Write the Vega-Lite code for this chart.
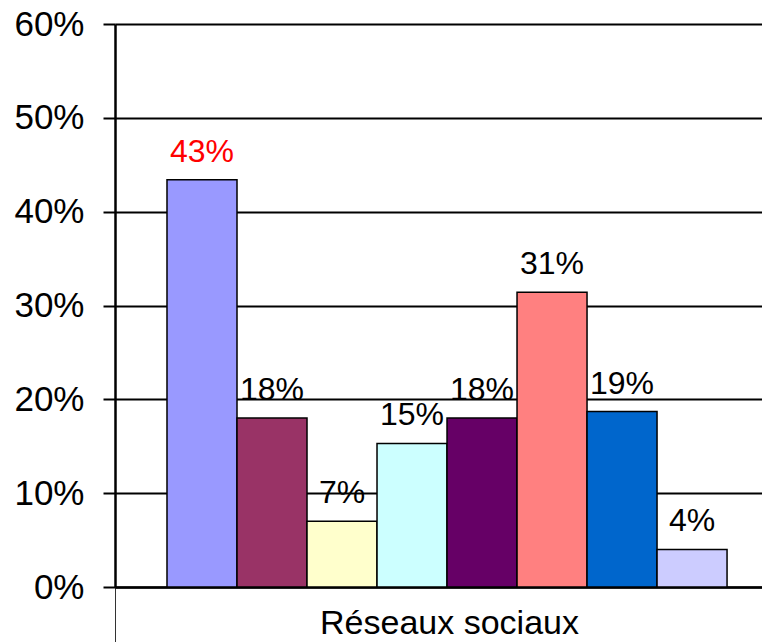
{
  "$schema": "https://vega.github.io/schema/vega-lite/v6.json",
  "autosize": "none",
  "padding": {"left": 115, "top": 24, "right": 0, "bottom": 55},
  "width": 647,
  "height": 563,
  "background": "white",
  "config": {
    "view": {"stroke": null},
    "font": "Liberation Sans",
    "axis": {"labelFont": "Liberation Sans", "labelColor": "black"}
  },
  "data": {
    "values": [
      {"categorie": "Réseaux sociaux", "serie": "S1", "valeur": 0.434},
      {"categorie": "Réseaux sociaux", "serie": "S2", "valeur": 0.180},
      {"categorie": "Réseaux sociaux", "serie": "S3", "valeur": 0.070},
      {"categorie": "Réseaux sociaux", "serie": "S4", "valeur": 0.153},
      {"categorie": "Réseaux sociaux", "serie": "S5", "valeur": 0.180},
      {"categorie": "Réseaux sociaux", "serie": "S6", "valeur": 0.314},
      {"categorie": "Réseaux sociaux", "serie": "S7", "valeur": 0.187},
      {"categorie": "Réseaux sociaux", "serie": "S8", "valeur": 0.040}
    ]
  },
  "encoding": {
    "x": {
      "field": "categorie",
      "type": "nominal",
      "title": null,
      "scale": {"paddingInner": 0, "paddingOuter": 0},
      "axis": {
        "bandPosition": 0,
        "labelAngle": 0,
        "labelFontSize": 34,
        "labelLimit": 0,
        "labelBaseline": "alphabetic",
        "labelPadding": -9,
        "labelOffset": 11,
        "tickSize": 55,
        "tickColor": "#333333",
        "tickWidth": 1,
        "domainColor": "black",
        "domainWidth": 2.5,
        "grid": false
      }
    },
    "xOffset": {
      "field": "serie",
      "type": "nominal",
      "sort": ["S1", "S2", "S3", "S4", "S5", "S6", "S7", "S8"],
      "scale": {"paddingInner": 0, "paddingOuter": 0.621, "align": 0.598}
    },
    "y": {
      "field": "valeur",
      "type": "quantitative",
      "title": null,
      "scale": {"domain": [0, 0.6], "nice": false},
      "axis": {
        "values": [0, 0.1, 0.2, 0.3, 0.4, 0.5, 0.6],
        "format": ".0%",
        "labelFontSize": 35,
        "labelPadding": 19,
        "tickSize": 12,
        "tickColor": "black",
        "tickWidth": 2,
        "domainColor": "black",
        "domainWidth": 2.5,
        "grid": true,
        "gridColor": "black",
        "gridWidth": 2,
        "gridOpacity": 1
      }
    }
  },
  "layer": [
    {
      "mark": {"type": "bar", "stroke": "black", "strokeWidth": 1.5},
      "encoding": {
        "color": {
          "field": "serie",
          "type": "nominal",
          "legend": null,
          "scale": {
            "domain": ["S1", "S2", "S3", "S4", "S5", "S6", "S7", "S8"],
            "range": ["#9999FF", "#993366", "#FFFFCC", "#CCFFFF", "#660066", "#FF8080", "#0066CC", "#CCCCFF"]
          }
        }
      }
    },
    {
      "mark": {"type": "text", "fontSize": 32, "baseline": "alphabetic", "dy": -18, "font": "Liberation Sans"},
      "encoding": {
        "text": {"field": "valeur", "type": "quantitative", "format": ".0%"},
        "color": {
          "condition": {"test": "datum.serie === 'S1'", "value": "#FF0000"},
          "value": "black"
        }
      }
    }
  ]
}
